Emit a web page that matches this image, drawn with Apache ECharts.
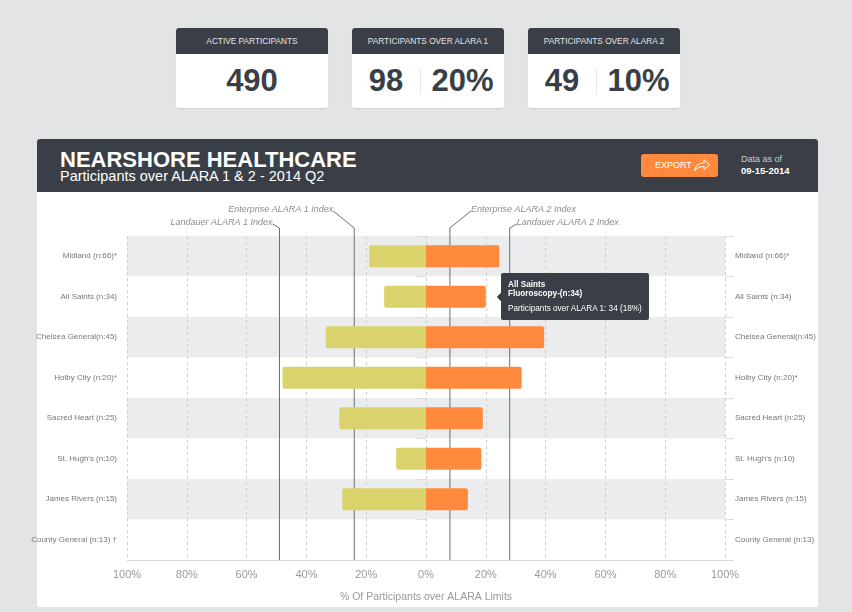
<!DOCTYPE html>
<html>
<head>
<meta charset="utf-8">
<script src="https://cdn.jsdelivr.net/npm/echarts@6/dist/echarts.min.js"></script>
<style>
  html, body { margin: 0; padding: 0; }
  body {
    width: 852px; height: 612px; overflow: hidden; position: relative;
    background: #e3e4e6; font-family: "Liberation Sans", Arial, sans-serif;
  }
  .card {
    position: absolute; top: 28px; width: 152px; height: 80px;
    background: #fff; border-radius: 3px; overflow: hidden;
    box-shadow: 0 1px 1px rgba(0,0,0,0.08);
  }
  .card-head {
    height: 26px; line-height: 26px; background: #3a3f47; color: #e4e6e9;
    font-size: 8.3px; text-align: center;
  }
  .card-body {
    display: flex; height: 54px; align-items: center; color: #3a3f47;
    font-weight: bold; font-size: 31px;
  }
  .card-body .cell { flex: 1; text-align: center; }
  .card-body .cell.first { flex: none; width: 68px; }
  .card-body .sep { width: 1px; height: 26px; background: #e6e6e6; }
  #panel {
    position: absolute; left: 37px; top: 139px; width: 781px; height: 468px;
    background: #fff; border-radius: 3px; overflow: hidden;
  }
  #panel-head {
    position: absolute; left: 0; top: 0; width: 781px; height: 53px; background: #3a3f47;
  }
  #title {
    position: absolute; left: 23px; top: 9px; color: #fff; font-weight: bold; font-size: 22px;
    line-height: 24px;
  }
  #subtitle {
    position: absolute; left: 23px; top: 29px; color: #fff; font-size: 14.5px; line-height: 16px;
  }
  #export {
    position: absolute; left: 604px; top: 15px; width: 77px; height: 23px; background: #ff8a3d;
    border-radius: 3px; color: #fff; font-size: 9px; line-height: 23px;
  }
  #export span { position: absolute; left: 14px; top: 0; }
  #export svg { position: absolute; left: 52px; top: 4px; }
  #asof {
    position: absolute; left: 704px; top: 15px; color: #c9ccd1; font-size: 9px; line-height: 11px;
  }
  #asof b { color: #fff; font-size: 9.5px; }
  /* starts a little left of the panel so the longest label can spill over, as in the original */
  #chart { position: absolute; left: 30px; top: 192px; width: 788px; height: 415px; }
</style>
</head>
<body>
<div class="card" style="left:176px">
  <div class="card-head">ACTIVE PARTICIPANTS</div>
  <div class="card-body"><div class="cell">490</div></div>
</div>
<div class="card" style="left:352px">
  <div class="card-head">PARTICIPANTS OVER ALARA 1</div>
  <div class="card-body"><div class="cell first">98</div><div class="sep"></div><div class="cell">20%</div></div>
</div>
<div class="card" style="left:528px">
  <div class="card-head">PARTICIPANTS OVER ALARA 2</div>
  <div class="card-body"><div class="cell first">49</div><div class="sep"></div><div class="cell">10%</div></div>
</div>

<div id="panel">
  <div id="panel-head">
    <div id="title">NEARSHORE HEALTHCARE</div>
    <div id="subtitle">Participants over ALARA 1 &amp; 2 - 2014 Q2</div>
    <div id="export"><span>EXPORT</span>
      <svg width="18" height="14" viewBox="0 0 18 14">
        <path d="M1.5 12.5 C3 7 6.5 5 11 5 V1.8 L16.5 6.8 L11 11.5 V8.5 C7 8.5 4 9.8 1.5 12.5 Z"
              fill="none" stroke="#fff" stroke-width="1" stroke-linejoin="round"/>
      </svg>
    </div>
    <div id="asof">Data as of<br><b>09-15-2014</b></div>
  </div>
</div>
<div id="chart"></div>

<script>
const hospitals = [
  "Midland (n:66)*",
  "All Saints (n:34)",
  "Chelsea General(n:45)",
  "Holby City (n:20)*",
  "Sacred Heart (n:25)",
  "St. Hugh's (n:10)",
  "James Rivers (n:15)",
  "County General (n:13) \u2020",
];
const hospitalsRight = [
  "Midland (n:66)*",
  "All Saints (n:34)",
  "Chelsea General(n:45)",
  "Holby City (n:20)*",
  "Sacred Heart (n:25)",
  "St. Hugh's (n:10)",
  "James Rivers (n:15)",
  "County General (n:13)",
];
// % of participants over each limit
const overAlara1 = [19, 14, 33.5, 48, 29, 10, 28, null];
const overAlara2 = [24.5, 20, 39.5, 32, 19, 18.5, 14, null];

const indexNames = [
  "Landauer ALARA 1 Index",
  "Enterprise ALARA 1 Index",
  "Enterprise ALARA 2 Index",
  "Landauer ALARA 2 Index",
];
// ALARA 1 indices sit on the left half, so they are negative
const indexValues = [-49, -24, 8, 28];

const xTicks = [-100, -80, -60, -40, -20, 0, 20, 40, 60, 80, 100];

const tipLines = ["All Saints", "Fluoroscopy-(n:34)", "Participants over ALARA 1: 34 (18%)"];

const chart = echarts.init(document.getElementById("chart"));

function renderIndex(params, api) {
  const v = api.value(0);
  const x = api.coord([v, 0])[0];
  const cs = params.coordSys;
  const top = cs.y;
  const bottom = cs.y + cs.height;
  const side = v < 0 ? -1 : 1;
  // the index closest to 0 on its side gets the upper label
  const upper = !indexValues.some((o) => Math.sign(o) === side && Math.abs(o) < Math.abs(v));
  const labelY = upper ? top - 27 : top - 14;
  const dx = upper ? 21 : 7;
  const tx = x + side * dx;
  return {
    type: "group",
    children: [
      {
        type: "polyline",
        shape: { points: [[tx, labelY + 2], [x, top - 8], [x, bottom]] },
        style: { stroke: "#6b6e73", lineWidth: 1, fill: null },
      },
      {
        type: "text",
        x: tx,
        y: labelY,
        style: {
          text: indexNames[params.dataIndex],
          fill: "#8a8d92",
          font: "italic 9px 'Liberation Sans', Arial, sans-serif",
          align: side < 0 ? "right" : "left",
          verticalAlign: "middle",
        },
      },
    ],
  };
}

chart.setOption({
  animation: false,
  textStyle: { fontFamily: "'Liberation Sans', Arial, sans-serif" },
  grid: { left: 97, right: 93, top: 44, bottom: 47, containLabel: false, outerBoundsMode: "none" },
  tooltip: {
    trigger: "item",
    triggerOn: "none",
    alwaysShowContent: true,
    position: "right",
    transitionDuration: 0,
    backgroundColor: "#3a3f47",
    borderColor: "#3a3f47",
    borderWidth: 0,
    padding: [7, 7, 6, 7],
    extraCssText: "box-shadow:none;border-radius:2px;margin-left:7px;",
    textStyle: { color: "#fff", fontSize: 8.2 },
    formatter: () =>
      `<div style="font-weight:bold;line-height:9px;font-size:8.2px">${tipLines[0]}<br>${tipLines[1]}</div>` +
      `<div style="margin-top:6px;line-height:10px;font-size:8.2px">${tipLines[2]}</div>`,
  },
  xAxis: {
    type: "value",
    min: xTicks[0],
    max: xTicks[xTicks.length - 1],
    interval: 20,
    name: "% Of Participants over ALARA Limits",
    nameLocation: "middle",
    nameGap: 32,
    nameTextStyle: { color: "#999", fontSize: 10.5 },
    axisLine: { show: true, lineStyle: { color: "#d9d9d9" } },
    axisTick: { show: false },
    axisLabel: {
      color: "#999",
      fontSize: 11,
      margin: 9,
      formatter: (v) => Math.abs(v) + "%",
    },
    splitLine: { show: true, lineStyle: { color: "#cfcfcf", type: [3, 3] } },
  },
  yAxis: [
    {
      type: "category",
      data: hospitals,
      inverse: true,
      axisLine: { show: false },
      axisTick: { show: true, length: 9, lineStyle: { color: "#dcdcdc" } },
      axisLabel: { color: "#777", fontSize: 8, margin: 10 },
      splitArea: { show: true, areaStyle: { color: ["#ebecee", "#ffffff"] } },
      splitLine: { show: false },
    },
    {
      type: "category",
      data: hospitalsRight,
      inverse: true,
      position: "right",
      axisLine: { show: false },
      axisTick: { show: true, length: 9, lineStyle: { color: "#dcdcdc" } },
      axisLabel: { color: "#777", fontSize: 8, margin: 10 },
      splitLine: { show: false },
    },
  ],
  series: [
    {
      type: "custom",
      name: "Index",
      renderItem: renderIndex,
      data: indexValues.map((v) => [v, 0]),
      encode: { x: 0, y: 1 },
      clip: false,
      silent: true,
      z: 1,
      tooltip: { show: false },
    },
    {
      type: "bar",
      name: "ALARA 1",
      stack: "total",
      barWidth: 22,
      z: 3,
      itemStyle: { color: "#dad36b", borderRadius: [2, 0, 0, 2] },
      data: overAlara1.map((v) => (v == null ? null : -v)),
    },
    {
      type: "bar",
      name: "ALARA 2",
      stack: "total",
      barWidth: 22,
      z: 3,
      itemStyle: { color: "#ff8a3d", borderRadius: [0, 2, 2, 0] },
      data: overAlara2,
    },
  ],
});

chart.dispatchAction({ type: "showTip", seriesIndex: 2, dataIndex: 1 });
</script>
</body>
</html>
